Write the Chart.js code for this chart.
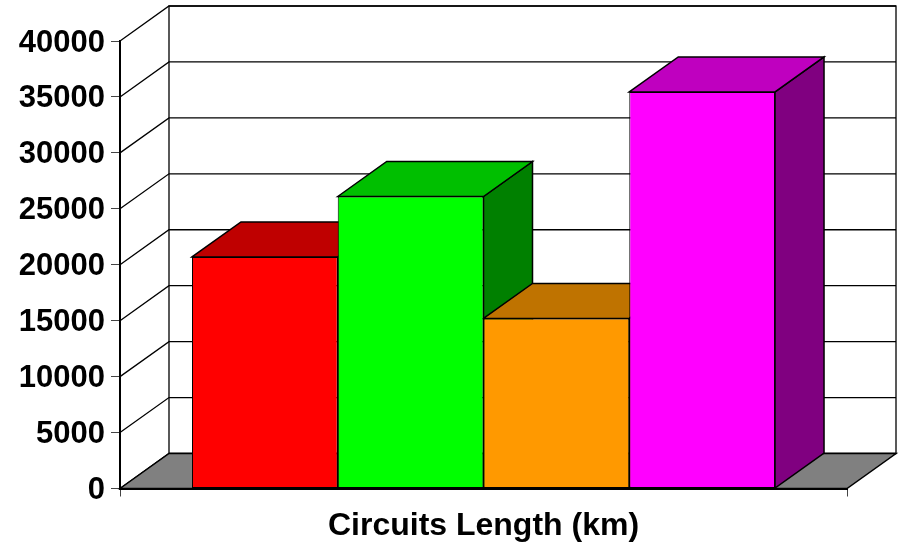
<!DOCTYPE html>
<html>
<head>
<meta charset="utf-8">
<title>Circuits Length</title>
<script src="https://cdn.jsdelivr.net/npm/chart.js@4"></script>
<style>
	body { margin: 0; background: #fff; }
	canvas { display: block; }
</style>
</head>
<body>
<canvas id="chart" width="900" height="543"></canvas>
<script>
const categories = ['Circuits Length (km)']
const redValues = [20700]
const greenValues = [26100]
const orangeValues = [15200]
const magentaValues = [35450]
const yMax = 40000
const yStep = 5000

const fronts = ['#ff0000', '#00ff00', '#ff9900', '#ff00ff']
const tops = ['#bf0000', '#00bf00', '#bf7300', '#bf00bf']
const sides = ['#800000', '#008000', '#804d00', '#800080']

// depth of the fake 3d box, in pixels
const DX = 49
const DY = 35

function poly(ctx, points, fill) {
	ctx.beginPath()
	points.forEach((p, i) => i ? ctx.lineTo(p[0], p[1]) : ctx.moveTo(p[0], p[1]))
	ctx.closePath()
	if (fill) {
		ctx.fillStyle = fill
		ctx.fill()
	}
	ctx.stroke()
}

const box3d = {
	id: 'box3d',
	beforeDatasetsDraw(chart) {
		const ctx = chart.ctx
		const a = chart.chartArea
		const y = chart.scales.y
		ctx.save()
		ctx.strokeStyle = '#000'
		ctx.lineWidth = 1.3

		// back wall and grid
		ctx.strokeRect(a.left + DX, a.top - DY, a.right - a.left, a.bottom - a.top)
		y.ticks.forEach((t, i) => {
			const py = y.getPixelForTick(i)
			ctx.beginPath()
			ctx.moveTo(a.left, py)
			ctx.lineTo(a.left + DX, py - DY)
			ctx.lineTo(a.right + DX, py - DY)
			ctx.stroke()
		})

		// floor
		ctx.lineWidth = 1.5
		poly(ctx, [[a.left, a.bottom], [a.left + DX, a.bottom - DY], [a.right + DX, a.bottom - DY], [a.right, a.bottom]], '#808080')

		// top and side faces, left to right so the later bars cover the earlier ones
		chart.data.datasets.forEach((d, i) => {
			const bar = chart.getDatasetMeta(i).data[0]
			const l = bar.x - bar.width / 2
			const r = bar.x + bar.width / 2
			poly(ctx, [[r, bar.y], [r + DX, bar.y - DY], [r + DX, bar.base - DY], [r, bar.base]], sides[i])
			poly(ctx, [[l, bar.y], [l + DX, bar.y - DY], [r + DX, bar.y - DY], [r, bar.y]], tops[i])
		})
		ctx.restore()
	}
}

const values = [redValues, greenValues, orangeValues, magentaValues]

new Chart('chart', {
	type: 'bar',
	data: {
		labels: categories,
		datasets: values.map((v, i) => ({
			data: v,
			backgroundColor: fronts[i],
			borderColor: '#000',
			borderWidth: 1,
			borderSkipped: false,
			barPercentage: 1,
			categoryPercentage: 0.802
		}))
	},
	options: {
		responsive: false,
		animation: false,
		layout: { padding: { top: 41, right: 53, left: 0, bottom: 0 } },
		plugins: {
			legend: { display: false },
			title: { display: false },
			tooltip: { enabled: false }
		},
		scales: {
			x: {
				afterFit(s) { s.height = 54.5 },
				border: { display: true, color: '#000', width: 2, z: 1 },
				grid: { drawOnChartArea: false, drawTicks: true, tickLength: 8, tickColor: '#444' },
				ticks: { color: '#000', padding: 10, maxRotation: 0, font: { family: 'Liberation Sans', weight: 'bold', size: 32 } }
			},
			y: {
				min: 0,
				max: yMax,
				afterFit(s) { s.width = 120 },
				border: { display: true, color: '#000', width: 2, z: 1 },
				grid: { drawOnChartArea: false, drawTicks: true, tickLength: 9, tickColor: '#444' },
				ticks: {
					stepSize: yStep,
					color: '#000',
					padding: 6,
					labelOffset: 2,
					callback: v => String(v),
					font: { family: 'Liberation Sans', weight: 'bold', size: 31 }
				}
			}
		}
	},
	plugins: [box3d]
})
</script>
</body>
</html>
